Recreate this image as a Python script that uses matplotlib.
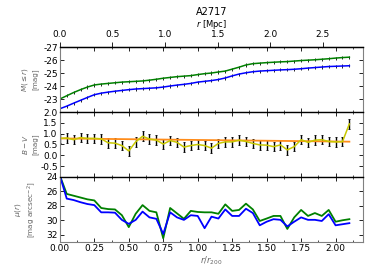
"""Cumulative magnitude, colour and surface brightness profiles for A2717."""

import numpy as np
import matplotlib
matplotlib.use("Agg")
import matplotlib.pyplot as plt
from matplotlib.ticker import MultipleLocator, FixedLocator, FormatStrFormatter

# radius in units of r200, and r200 in Mpc
r = np.round(np.arange(0, 2.101, 0.05), 2)
r200 = 1.31
mpc_ticks = [0.0, 0.5, 1.0, 1.5, 2.0, 2.5]

# cumulative absolute magnitude M(<=r)
m_green = [-23.0, -23.25, -23.5, -23.72, -23.92, -24.08, -24.15, -24.2, -24.25, -24.3,
           -24.33, -24.36, -24.39, -24.45, -24.52, -24.6, -24.66, -24.72, -24.76, -24.8,
           -24.88, -24.95, -25.0, -25.08, -25.15, -25.3, -25.45, -25.62, -25.72, -25.76,
           -25.8, -25.83, -25.86, -25.88, -25.92, -25.96, -25.99, -26.02, -26.06, -26.1,
           -26.15, -26.19, -26.22]
m_blue = [-22.25, -22.45, -22.68, -22.9, -23.12, -23.33, -23.45, -23.53, -23.6, -23.66,
          -23.72, -23.77, -23.8, -23.83, -23.86, -23.92, -24.0, -24.07, -24.13, -24.2,
          -24.3, -24.36, -24.42, -24.5, -24.62, -24.78, -24.92, -25.02, -25.1, -25.15,
          -25.18, -25.21, -25.24, -25.26, -25.29, -25.33, -25.38, -25.42, -25.46, -25.5,
          -25.52, -25.54, -25.56]
m_err = 0.12

# B-V colour profile and linear fit
bv = [0.78, 0.80, 0.72, 0.82, 0.78, 0.78, 0.76, 0.58, 0.56, 0.45,
      0.20, 0.62, 0.88, 0.75, 0.70, 0.52, 0.68, 0.60, 0.38, 0.45,
      0.50, 0.45, 0.33, 0.55, 0.62, 0.62, 0.70, 0.64, 0.55, 0.48,
      0.47, 0.40, 0.48, 0.25, 0.40, 0.72, 0.60, 0.70, 0.72, 0.64,
      0.62, 0.63, 1.45]
bv_err = 0.22
fit_r = [0.0, 2.10]
fit_bv = [0.78, 0.63]

# surface brightness profile
mu_green = [23.8, 26.35, 26.6, 26.85, 27.1, 27.25, 28.3, 28.45, 28.5, 29.3,
            30.95, 29.1, 27.9, 28.7, 28.9, 32.5, 28.3, 29.05, 29.8, 28.7,
            28.85, 28.9, 28.9, 29.1, 27.8, 28.7, 28.57, 27.7, 28.5, 30.1,
            29.76, 29.4, 29.4, 31.2, 29.6, 28.57, 29.4, 29.0, 29.4, 28.57,
            30.2, 30.0, 29.85]
mu_blue = [23.8, 27.0, 27.2, 27.5, 27.75, 27.9, 28.9, 28.9, 28.95, 29.95,
           30.5, 29.95, 28.8, 29.6, 29.8, 31.9, 28.9, 29.6, 29.95, 29.3,
           29.4, 31.1, 29.5, 29.76, 28.5, 29.4, 29.4, 28.4, 29.0, 30.7,
           30.2, 29.85, 29.94, 30.85, 30.2, 29.6, 29.94, 29.94, 30.1, 29.16,
           30.7, 30.55, 30.4]

plt.rcParams["font.size"] = 6.5
plt.rcParams["mathtext.fontset"] = "dejavusans"

fig, axes = plt.subplots(3, 1, figsize=(3.74, 2.80), dpi=100, sharex=True)
fig.subplots_adjust(left=0.160, right=0.971, top=0.832, bottom=0.136, hspace=0)
ax1, ax2, ax3 = axes

ax1.errorbar(r, m_green, yerr=m_err, color="g", ecolor="k", elinewidth=0.6, lw=1.1, capsize=0)
ax1.errorbar(r, m_blue, yerr=m_err, color="b", ecolor="k", elinewidth=0.6, lw=1.1, capsize=0)
ax1.set_ylim(-22, -27)
ax1.set_yticks([-27, -26, -25, -24, -23])
ax1.yaxis.set_major_formatter(FormatStrFormatter("%d"))
ax1.set_ylabel("$M(\\leq r)$\n[mag]", fontsize=5.2, color="0.4")

ax2.errorbar(r, bv, yerr=bv_err, fmt="none", ecolor="k", elinewidth=1.0, capsize=1, capthick=0.6)
ax2.plot(fit_r, fit_bv, color="#ff8c1a", lw=1.3)
ax2.plot(r, bv, color="#c8c800", lw=1.1)
ax2.set_ylim(-1.0, 2.0)
ax2.set_yticks([2.0, 1.5, 1.0, 0.5, 0.0, -0.5])
ax2.yaxis.set_major_formatter(FormatStrFormatter("%.1f"))
ax2.set_ylabel("$B-V$\n[mag]", fontsize=5.2, color="0.4")

ax3.plot(r, mu_green, color="g", lw=1.3)
ax3.plot(r, mu_blue, color="b", lw=1.3)
ax3.set_ylim(33, 24)
ax3.set_yticks([24, 26, 28, 30, 32])
ax3.set_ylabel("$\\mu(r)$\n[mag arcsec$^{-2}$]", fontsize=5.2, color="0.4")
ax3.set_xlabel("$r/r_{200}$", fontsize=6, color="0.4", labelpad=1)

for ax in axes:
    ax.set_xlim(0, 2.2)
    ax.xaxis.set_major_locator(MultipleLocator(0.25))
    ax.xaxis.set_minor_locator(MultipleLocator(0.125))
    ax.xaxis.set_major_formatter(FormatStrFormatter("%.2f"))
    ax.tick_params(which="both", direction="in", top=True, right=True, pad=1.5)
    ax.tick_params(which="major", length=3, width=0.6)
    ax.tick_params(which="minor", length=1.5, width=0.5)
    for side in ["left", "right", "bottom"]:
        ax.spines[side].set_color("0.5")
        ax.spines[side].set_linewidth(0.8)
    ax.spines["top"].set_color("k")
    ax.spines["top"].set_linewidth(1.0)
    ax.yaxis.set_label_coords(-0.072, 0.5)

secax = ax1.secondary_xaxis("top", functions=(lambda x: x * r200, lambda x: x / r200))
secax.xaxis.set_major_locator(FixedLocator(mpc_ticks))
secax.xaxis.set_major_formatter(FormatStrFormatter("%.1f"))
secax.tick_params(direction="out", length=3.5, width=0.6, pad=2.5)
secax.set_xlabel("$r$ [Mpc]", fontsize=6, labelpad=2)
ax1.set_title("A2717", fontsize=7, pad=23)

fig.savefig("out.png", dpi=100)
